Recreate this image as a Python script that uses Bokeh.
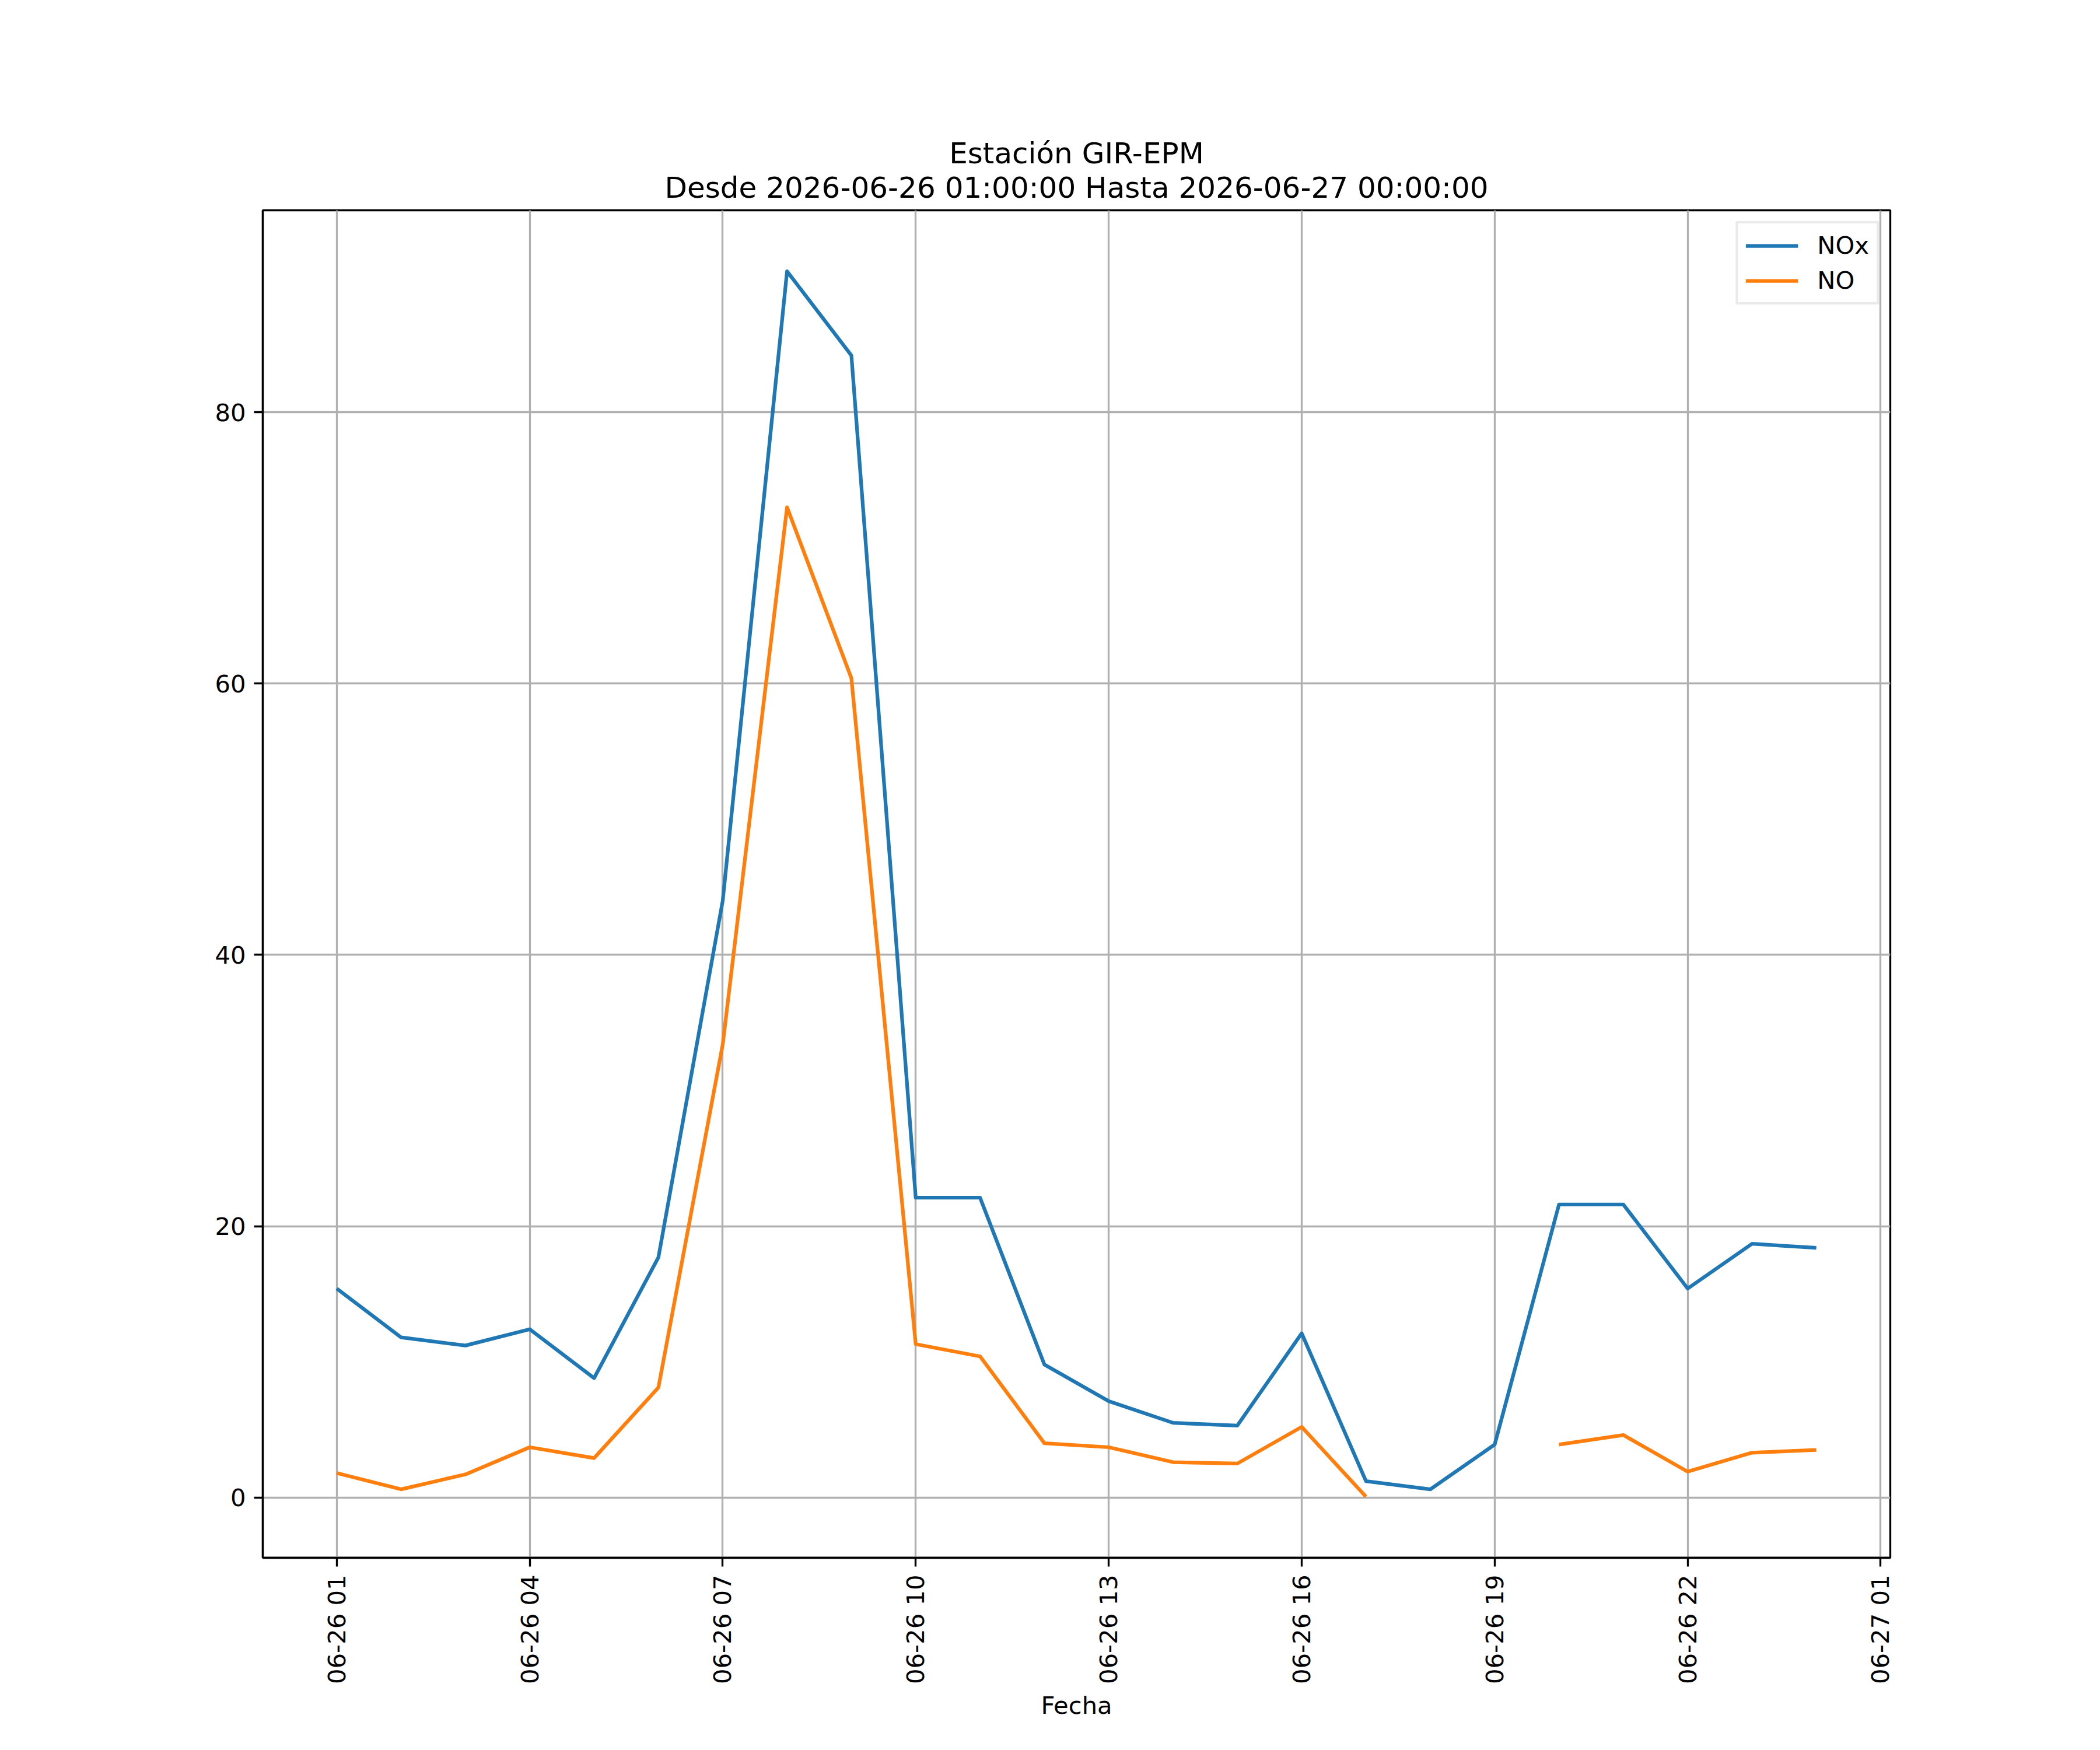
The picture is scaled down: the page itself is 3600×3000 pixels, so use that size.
import math
import pandas as pd
from bokeh.plotting import figure
from bokeh.models import (Range1d, FixedTicker, DatetimeTickFormatter, Title,
                          Legend, LegendItem, ColumnDataSource)
from bokeh.embed import file_html
from bokeh.resources import INLINE

# ---- data ----
fechas = ["2026-06-26 01:00", "2026-06-26 02:00", "2026-06-26 03:00", "2026-06-26 04:00",
          "2026-06-26 05:00", "2026-06-26 06:00", "2026-06-26 07:00", "2026-06-26 08:00",
          "2026-06-26 09:00", "2026-06-26 10:00", "2026-06-26 11:00", "2026-06-26 12:00",
          "2026-06-26 13:00", "2026-06-26 14:00", "2026-06-26 15:00", "2026-06-26 16:00",
          "2026-06-26 17:00", "2026-06-26 18:00", "2026-06-26 19:00", "2026-06-26 20:00",
          "2026-06-26 21:00", "2026-06-26 22:00", "2026-06-26 23:00", "2026-06-27 00:00"]
nox = [15.4, 11.8, 11.2, 12.4, 8.8, 17.7, 44.0, 90.4, 84.2, 22.1, 22.1, 9.8,
       7.1, 5.5, 5.3, 12.1, 1.2, 0.6, 3.9, 21.6, 21.6, 15.4, 18.7, 18.4]
no = [1.8, 0.6, 1.7, 3.7, 2.9, 8.1, 33.4, 73.0, 60.4, 11.3, 10.4, 4.0,
      3.7, 2.6, 2.5, 5.2, 0.05, float("nan"), float("nan"), 3.9, 4.6, 1.9, 3.3, 3.5]
tick_fechas = ["2026-06-26 01:00", "2026-06-26 04:00", "2026-06-26 07:00", "2026-06-26 10:00",
               "2026-06-26 13:00", "2026-06-26 16:00", "2026-06-26 19:00", "2026-06-26 22:00",
               "2026-06-27 01:00"]
y_ticks = [0, 20, 40, 60, 80]
titulo1 = "Estación GIR-EPM"
titulo2 = "Desde 2026-06-26 01:00:00 Hasta 2026-06-27 00:00:00"
xlabel = "Fecha"
series_names = ["NOx", "NO"]

FONT = "DejaVu Sans"
TICK_PX = "41.7px"
TITLE_PX = "50px"
LW = 6.25
THIN = 3.33

x = pd.to_datetime(fechas)
src = ColumnDataSource(dict(x=x, nox=nox, no=no))

pad = pd.Timedelta(hours=1.15)
x_range = Range1d(x[0] - pad, x[-1] + pad)
y_range = Range1d(-4.45, 94.9)

p = figure(title=None, x_axis_type="datetime", x_range=x_range, y_range=y_range,
           frame_width=2790, frame_height=2310,
           min_border_left=450, min_border_right=344, min_border_top=360, min_border_bottom=314,
           output_backend="svg", toolbar_location=None, background_fill_color="white",
           border_fill_color="white")

# titles (closest to frame first)
p.add_layout(Title(text=titulo2, align="center", text_font=FONT, text_font_size=TITLE_PX,
                   text_font_style="normal", text_color="black", standoff=19), "above")
p.add_layout(Title(text=titulo1, align="center", text_font=FONT, text_font_size=TITLE_PX,
                   text_font_style="normal", text_color="black", standoff=-20), "above")

r1 = p.line("x", "nox", source=src, line_color="#1f77b4", line_width=LW, line_join="round")
r2 = p.line("x", "no", source=src, line_color="#ff7f0e", line_width=LW, line_join="round")

# axes
tick_ms = [pd.Timestamp(t).value / 1e6 for t in tick_fechas]
p.xaxis.ticker = FixedTicker(ticks=tick_ms)
fmt = "%m-%d %H"
p.xaxis.formatter = DatetimeTickFormatter(
    microseconds=fmt, milliseconds=fmt, seconds=fmt, minsec=fmt, minutes=fmt,
    hourmin=fmt, hours=fmt, days=fmt, months=fmt, years=fmt,
    strip_leading_zeros=False, context=None)
p.xaxis.major_label_orientation = math.pi / 2
p.yaxis.ticker = FixedTicker(ticks=y_ticks)
p.xaxis.axis_label = xlabel

for ax in (p.xaxis, p.yaxis):
    ax.axis_line_color = "black"
    ax.axis_line_width = THIN
    ax.major_tick_line_color = "black"
    ax.major_tick_line_width = THIN
    ax.major_tick_out = 15
    ax.major_tick_in = 0
    ax.minor_tick_line_color = None
    ax.major_label_text_font = FONT
    ax.major_label_text_font_size = TICK_PX
    ax.major_label_text_color = "black"
    ax.major_label_standoff = 14
    ax.axis_label_text_font = FONT
    ax.axis_label_text_font_size = TICK_PX
    ax.axis_label_text_font_style = "normal"
    ax.axis_label_text_color = "black"
p.xaxis.axis_label_standoff = 9

p.grid.grid_line_color = "#b0b0b0"
p.grid.grid_line_width = THIN
p.outline_line_color = "black"
p.outline_line_width = THIN

legend = Legend(items=[LegendItem(label=series_names[0], renderers=[r1]),
                       LegendItem(label=series_names[1], renderers=[r2])],
                location="top_right", margin=19, padding=13, spacing=11,
                glyph_width=90, glyph_height=40, label_height=40, label_standoff=33,
                label_text_font=FONT, label_text_font_size=TICK_PX, label_text_color="black",
                border_line_color="#d6d6d6", border_line_width=4,
                background_fill_color="white", background_fill_alpha=0.8)
p.add_layout(legend)

open("out.html", "w").write(file_html(p, INLINE))
